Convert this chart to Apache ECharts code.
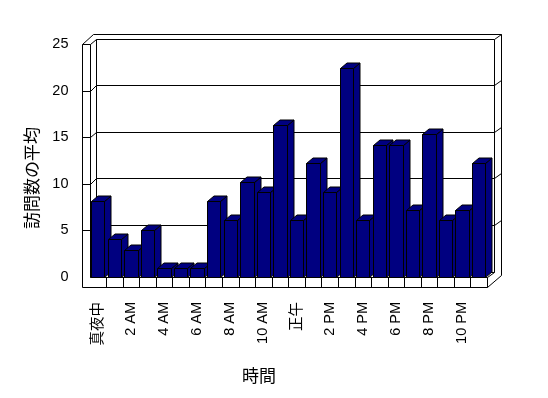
<!DOCTYPE html>
<html><head><meta charset="utf-8">
<script src="https://cdn.jsdelivr.net/npm/echarts@6/dist/echarts.min.js"></script>
<style>html,body{margin:0;padding:0;background:#fff}#c{width:548px;height:398px}</style>
</head><body><div id="c"></div>
<script>
const hours = ['真夜中','1 AM','2 AM','3 AM','4 AM','5 AM','6 AM','7 AM','8 AM','9 AM','10 AM','11 AM',
               '正午','1 PM','2 PM','3 PM','4 PM','5 PM','6 PM','7 PM','8 PM','9 PM','10 PM','11 PM'];
const visits = [8.15,4.05,2.95,5.05,0.95,0.95,0.95,8.15,6.1,10.15,9.15,16.35,
                6.1,12.2,9.15,22.45,6.1,14.2,14.2,7.15,15.3,6.1,7.15,12.2];
const yTicks = [0,5,10,15,20,25];
const yTitle = '訪問数の平均';
const xTitle = '時間';

const FONT = "'Liberation Sans', 'Noto Sans CJK JP', sans-serif";
const DX = 6.5, DY = -5.5;     // depth of the box interior
const TX = 7, TY = -5;         // wall thickness
const LW = 7.5;                // left wall front thickness
const FH = 10;                 // floor thickness
const s = v => Math.round(v) + 0.5;
const line = (x1,y1,x2,y2) => ({type:'line', shape:{x1:s(x1),y1:s(y1),x2:s(x2),y2:s(y2)}, style:{stroke:'#000',lineWidth:1}});

const chart = echarts.init(document.getElementById('c'));
chart.setOption({
  animation:false,
  backgroundColor:'#fff',
  grid:{left:89.5, right:61, top:44, bottom:121},
  xAxis:{type:'category', data:hours,
    axisLine:{show:false}, axisTick:{show:false},
    axisLabel:{interval:1, rotate:90, margin:25, fontSize:14.5, color:'#000', fontFamily:FONT}},
  yAxis:{type:'value', min:yTicks[0], max:yTicks[yTicks.length-1], interval:5,
    axisLine:{show:false}, axisTick:{show:false}, splitLine:{show:false},
    axisLabel:{margin:21, fontSize:14.5, color:'#000', fontFamily:FONT}},
  graphic:[
    {type:'text', x:32, y:178, rotation:Math.PI/2,
     style:{text:yTitle, font:"17px 'Noto Sans CJK JP'", fill:'#000', align:'center', verticalAlign:'middle'}},
    {type:'text', x:259, y:375.5,
     style:{text:xTitle, font:"17px 'Noto Sans CJK JP'", fill:'#000', align:'center', verticalAlign:'middle'}}
  ],
  series:[
    {type:'custom', z:1, silent:true, data:[[0,0]],
     renderItem:function(params, api){
       const band = api.size([1,0])[0];
       const n = hours.length;
       const xl = api.coord([0,0])[0] - band/2;
       const xr = xl + n*band;
       const y0 = api.coord([0,0])[1];
       const yT = api.coord([0,yTicks[yTicks.length-1]])[1];
       const ch = [];
       // outer silhouette
       ch.push({type:'polygon', shape:{points:[
         [s(xl-LW), s(yT)], [s(xl+3), s(yT+DY+TY)], [s(xr+DX+TX), s(yT+DY+TY)],
         [s(xr+DX+TX), s(y0+FH-12.5)], [s(xr), s(y0+FH)], [s(xl-LW), s(y0+FH)]]},
         style:{fill:'#fff', stroke:'#000', lineWidth:1}});
       // back wall face
       ch.push({type:'rect', shape:{x:s(xl+DX), y:s(yT+DY), width:Math.round(xr-xl), height:Math.round(y0-yT)},
         style:{fill:'#fff', stroke:'#000', lineWidth:1}});
       ch.push(line(xl-LW, yT, xl, yT));
       ch.push(line(xl, yT, xl+DX, yT+DY));
       ch.push(line(xl, yT, xl, y0));
       ch.push(line(xr+DX, yT+DY, xr+DX+TX, yT+DY+TY));
       yTicks.forEach(v => {
         if (v === yTicks[0] || v === yTicks[yTicks.length-1]) return;
         const y = api.coord([0,v])[1];
         ch.push(line(xl+DX, y+DY, xr+DX, y+DY));
         ch.push(line(xl-LW, y, xl, y));
         ch.push(line(xl, y, xl+DX, y+DY));
         ch.push(line(xr+DX, y+DY, xr+DX+TX, y+DY+TY));
       });
       // floor
       ch.push(line(xl, y0+DY, xl+DX, y0+DY));
       ch.push(line(xl, y0, xl+DX, y0+DY));
       ch.push(line(xl, y0, xr, y0));
       ch.push(line(xr, y0, xr, y0+FH));
       ch.push(line(xr, y0, xr+DX, y0+DY));
       for (let k=1;k<n;k++){ ch.push(line(xl+k*band, y0, xl+k*band, y0+FH)); }
       return {type:'group', children:ch};
     }},
    {type:'custom', z:2, data:visits.map((v,i)=>[i,v]),
     encode:{x:0,y:1},
     renderItem:function(params, api){
       const band = api.size([1,0])[0];
       const w = band*0.81;
       const c = api.coord([api.value(0), api.value(1)]);
       const b = api.coord([api.value(0), 0]);
       const x0 = s(c[0]-w/2), x1 = s(c[0]+w/2), yt = s(c[1]), yb = s(b[1]);
       const st = {fill:'#000080', stroke:'#000', lineWidth:1};
       return {type:'group', children:[
         {type:'polygon', shape:{points:[[x1,yt],[x1+DX,yt+DY],[x1+DX,yb+DY],[x1,yb]]}, style:st},
         {type:'polygon', shape:{points:[[x0,yt],[x0+DX,yt+DY],[x1+DX,yt+DY],[x1,yt]]}, style:st},
         {type:'rect', shape:{x:x0, y:yt, width:x1-x0, height:yb-yt}, style:st}
       ]};
     }}
  ]
});
</script></body></html>
